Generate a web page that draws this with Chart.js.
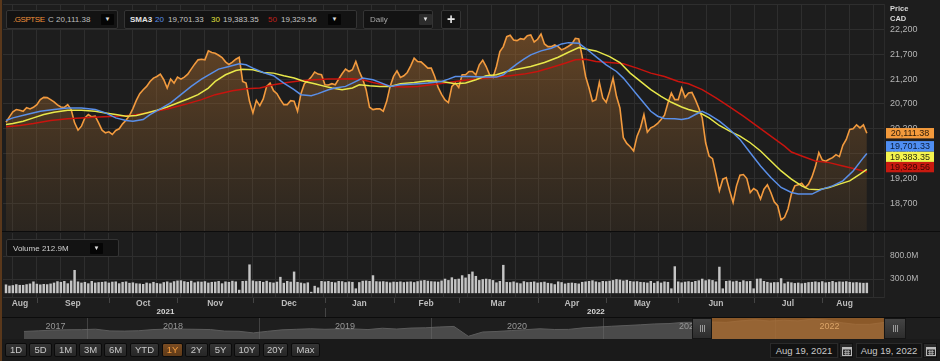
<!DOCTYPE html>
<html>
<head>
<meta charset="utf-8">
<script src="https://cdn.jsdelivr.net/npm/chart.js@4.4.0/dist/chart.umd.min.js"></script>
<style>
html,body{margin:0;padding:0;background:#1a1a1a;}
body{width:940px;height:361px;position:relative;overflow:hidden;font-family:"Liberation Sans",Arial,sans-serif;}
canvas{position:absolute;left:0;}
#price{top:0;}
#vol{top:232px;}
#nav{top:318px;}
.box{position:absolute;background:#131313;border:1px solid #343434;border-radius:2px;box-sizing:border-box;font-size:8px;color:#c4c4c4;white-space:nowrap;}
.box span{position:absolute;top:4px;}
.dd{position:absolute;top:3px;width:13px;height:11px;background:#050505;color:#e0e0e0;font-size:6px;line-height:11px;text-align:center;border-radius:1px;}
.btn{position:absolute;top:343px;height:14px;box-sizing:border-box;background:linear-gradient(#353535,#262626);border:1px solid #0b0b0b;border-radius:2px;color:#c8c8c8;font-size:9.5px;line-height:12px;text-align:center;}
.btn.on{background:linear-gradient(#7a4c22,#5e3a18);color:#f29a3c;}
.date{position:absolute;top:343px;height:15px;box-sizing:border-box;background:#121212;border:1px solid #2a2a2a;color:#c8c8c8;font-size:9.5px;line-height:13px;text-align:center;}
.cal{position:absolute;top:343px;width:14px;height:15px;box-sizing:border-box;background:#2a2a2a;border:1px solid #111;}
.cal svg{position:absolute;left:2px;top:2px;}
.axt{position:absolute;left:890px;font-size:7.5px;font-weight:bold;color:#d8d8d8;}
</style>
</head>
<body>
<div style="position:absolute;left:0;top:0;width:940px;height:4px;background:#080808;"></div>
<canvas id="price" width="940" height="232"></canvas>
<div style="position:absolute;left:0;top:231px;width:940px;height:2px;background:#0c0c0c;"></div>
<canvas id="vol" width="940" height="86"></canvas>
<div style="position:absolute;left:0;top:317px;width:940px;height:1px;background:#0c0c0c;"></div>
<canvas id="nav" width="940" height="21"></canvas>
<div style="position:absolute;left:0;top:0;width:2px;height:361px;background:#5a381b;"></div>

<div class="axt" style="top:4px;">Price</div>
<div class="axt" style="top:14px;">CAD</div>

<div class="box" style="left:6px;top:10px;width:112px;height:19px;">
  <span style="left:6px;color:#f0903a;letter-spacing:-0.45px;">.GSPTSE</span>
  <span id="hdrClose" style="left:41px;color:#bdbdbd;"></span>
  <div class="dd" style="left:94px;">&#9660;</div>
</div>
<div class="box" style="left:124px;top:10px;width:233px;height:19px;">
  <span style="left:5px;color:#e2e2e2;font-weight:bold;">SMA3</span>
  <span style="left:30px;color:#5a8fe8;">20</span>
  <span id="h20" style="left:43px;"></span>
  <span style="left:86px;color:#e2e23e;">30</span>
  <span id="h30" style="left:98px;"></span>
  <span style="left:143px;color:#c0201a;">50</span>
  <span id="h50" style="left:156px;"></span>
  <div class="dd" style="left:203px;">&#9660;</div>
</div>
<div class="box" style="left:363px;top:10px;width:70px;height:19px;">
  <span style="left:6px;color:#a8a8a8;">Daily</span>
  <div class="dd" style="left:55px;background:#2c2c2c;">&#9660;</div>
</div>
<div class="box" style="left:441px;top:10px;width:20px;height:19px;">
  <span style="left:5px;top:0px;font-size:14px;font-weight:bold;color:#e8e8e8;">+</span>
</div>
<div class="box" style="left:6px;top:239px;width:113px;height:18px;">
  <span style="left:6px;top:4px;color:#d0d0d0;" id="hdrVol"></span>
  <div class="dd" style="left:83px;top:3px;">&#9660;</div>
</div>

<div id="buttons"></div>
<div class="date" style="left:770px;width:68px;">Aug 19, 2021</div>
<div class="cal" style="left:839px;"><svg width="10" height="10"><rect x="0.5" y="1.5" width="9" height="8" fill="none" stroke="#bbb"/><rect x="0.5" y="1" width="9" height="2.5" fill="#bbb"/><path d="M2 5.5h6M2 7.5h6M3.5 4v5M5 4v5M6.5 4v5" stroke="#bbb" stroke-width="0.6"/></svg></div>
<div class="date" style="left:856px;width:66px;">Aug 19, 2022</div>
<div class="cal" style="left:923px;"><svg width="10" height="10"><rect x="0.5" y="1.5" width="9" height="8" fill="none" stroke="#bbb"/><rect x="0.5" y="1" width="9" height="2.5" fill="#bbb"/><path d="M2 5.5h6M2 7.5h6M3.5 4v5M5 4v5M6.5 4v5" stroke="#bbb" stroke-width="0.6"/></svg></div>

<script>
// axis labels
const months = ['Aug','Sep','Oct','Nov','Dec','Jan','Feb','Mar','Apr','May','Jun','Jul','Aug'];
const monthStarts = [0,9,30,50,72,93,113,132,155,175,196,218,238];
const years = ['2021','2022'];
const yearStarts = [0,93];
const priceTicks = [18700,19200,19700,20200,20700,21200,21700,22200];
const volumeTicks = [300,800];

// daily close, Aug 19 2021 .. Aug 19 2022
const closes = [
  20333,20440,20540,20587,20573,20553,20627,20600,20633,20687,
  20787,20833,20827,20787,20740,20680,20640,20630,20687,20587,
  20320,20173,20253,20420,20487,20440,20453,20320,20173,20120,
  20140,20087,20167,20200,20300,20373,20467,20607,20773,20907,
  20987,21053,21153,21220,21253,21300,21187,21020,21200,21120,
  21240,21200,21240,21300,21400,21500,21587,21600,21587,21767,
  21733,21720,21680,21633,21547,21493,21540,21600,21640,21153,
  21120,20753,20520,20773,20667,20800,21053,21120,20967,20907,
  20787,20687,20687,20767,20753,20553,20907,21107,21167,21240,
  21340,21300,21287,21087,21080,21107,21087,21200,21307,21400,
  21353,21387,21553,21353,21200,20987,20633,20587,20600,20600,
  20553,20753,21053,21253,21367,21233,21267,21333,21467,21620,
  21553,21547,21487,21420,21420,21253,21033,20893,20780,20727,
  21053,21120,21033,21287,21287,21353,21353,21287,21487,21580,
  21453,21287,21233,21453,21753,21853,22053,22080,21987,21973,
  22013,22000,22073,22087,21947,22000,22107,21907,21853,21853,
  21887,21853,21787,21820,21860,21907,22020,22007,21653,21253,
  21020,20753,20787,21133,20820,20733,20953,21220,20853,20620,
  20020,19907,19840,19753,20053,20220,20487,20133,20220,20253,
  20307,20387,20473,20720,20920,20787,20787,21020,20833,20920,
  20933,20787,20620,20420,19920,19653,19600,19287,18953,19187,
  19220,18953,18720,19053,19267,19280,19200,18920,19000,18953,
  18787,18987,19073,18920,18733,18653,18367,18420,18587,18887,
  19053,19073,19107,19020,19087,19233,19440,19720,19573,19547,
  19587,19620,19680,19640,19867,19987,20187,20200,20280,20220,
  20280,20111.38
];

// volume in millions
const volumes = [
  175,150,160,180,165,165,180,195,240,
  190,175,185,180,195,215,245,230,250,200,260,490,240,215,230,200,250,215,225,230,240,
  215,235,240,200,230,240,210,220,200,195,185,215,200,230,205,195,225,240,215,245,260,
  265,245,230,255,220,240,235,245,215,230,235,250,200,240,230,255,240,60,250,255,610,
  260,245,250,230,255,225,215,235,340,210,250,235,455,230,215,200,220,15,145,110,250,240,
  250,230,220,250,245,225,240,230,90,225,255,260,250,375,245,240,245,235,220,235,
  230,240,225,235,240,225,245,260,270,255,245,240,235,260,300,270,330,290,300,375,325,
  400,455,360,270,290,300,290,270,220,250,600,230,225,240,215,200,245,225,230,240,215,
  225,235,210,200,180,240,225,195,210,215,205,195,230,240,250,265,240,225,250,245,
  255,270,290,280,260,275,250,240,245,230,225,215,250,210,245,215,240,230,90,570,240,
  220,235,245,230,250,265,300,265,285,270,240,560,90,250,260,240,255,230,265,245,250,
  90,300,305,250,230,215,225,225,310,200,235,220,205,215,200,210,225,230,240,225,
  245,220,230,250,225,240,235,245,230,220,225,215,210,212.9
];

// moving averages read at these trading-day indices
const sma20Days = [0,2,6,10,14,18,22,26,29,32,35,37,40,42,45,48,51,54,57,60,62,65,68,70,72,75,78,81,84,86,89,91,94,96,99,101,104,107,109,112,115,119,123,127,129,131,135,139,143,145,147,149,151,153,156,159,162,164,167,169,172,175,178,180,182,184,186,188,190,192,195,197,199,201,203,205,208,211,214,217,220,223,226,229,231,233,235,238,241,244,247,250,251];
const sma20 = [20367,20420,20487,20553,20587,20620,20620,20587,20520,20420,20367,20353,20387,20487,20600,20720,20887,21053,21200,21320,21400,21453,21507,21487,21420,21333,21267,21120,20987,20887,20867,20907,20987,21020,21053,21120,21220,21187,21133,21053,21087,21100,21120,21153,21200,21253,21253,21240,21240,21287,21400,21507,21600,21687,21767,21820,21907,21933,21920,21820,21653,21487,21353,21220,21053,20887,20720,20553,20453,20407,20400,20387,20413,20487,20553,20487,20353,20187,19987,19720,19453,19220,19020,18920,18887,18887,18887,18987,19053,19153,19353,19620,19701.33];

const sma30Days = [0,2,5,8,11,14,18,22,26,29,32,35,38,41,44,47,50,53,56,59,61,64,67,69,72,75,78,81,84,87,90,93,95,98,101,103,106,109,112,115,119,123,127,131,134,137,140,143,146,149,153,157,161,164,167,169,172,176,179,182,185,188,191,194,197,199,202,205,208,211,214,217,220,223,226,229,232,234,237,240,243,246,249,251];
const sma30 = [20287,20307,20353,20420,20487,20533,20573,20573,20553,20520,20487,20453,20467,20520,20573,20640,20720,20800,20887,21020,21153,21287,21373,21400,21387,21333,21320,21267,21220,21153,21107,21053,21020,20987,21020,21087,21067,21053,21053,21107,21133,21167,21153,21107,21120,21187,21267,21287,21353,21400,21453,21533,21640,21740,21833,21807,21767,21653,21533,21320,21153,20987,20853,20733,20640,20587,20533,20420,20267,20153,20053,19920,19753,19553,19353,19187,19053,18987,18973,19020,19087,19153,19287,19383.35];

const sma50Days = [0,4,8,13,18,23,27,32,37,42,47,52,57,61,66,70,74,78,82,86,90,94,97,101,104,107,110,113,116,120,124,128,131,135,139,143,147,151,155,159,163,166,169,172,176,180,184,188,192,196,199,203,207,211,215,219,223,227,229,232,236,240,244,248,251];
const sma50 = [20240,20267,20307,20367,20400,20420,20440,20453,20473,20533,20600,20687,20787,20887,20967,21007,21020,21087,21133,21167,21187,21200,21200,21207,21187,21133,21087,21053,21040,21053,21087,21120,21153,21187,21213,21240,21267,21300,21353,21433,21520,21587,21600,21553,21533,21507,21420,21320,21253,21153,21107,20987,20820,20640,20453,20253,20053,19853,19733,19653,19553,19520,19453,19387,19329.56];

// navigator: index level near the 19th of each month, Aug 2017 .. Aug 2022
const navYears = ['2017','2018','2019','2020','2021','2022'];
const navValues = [
  15100,15450,15850,16050,16100,
  16350,15400,15300,15500,16150,16400,16400,16300,16150,15300,15200,14300,
  15200,16000,16300,16600,16300,16500,16500,16150,16900,16450,17000,17150,
  17600,17900,12400,14800,15100,15600,16100,16600,16200,16250,17100,17550,
  18000,18400,18800,19300,19500,20150,20200,20350,20150,21000,21600,20900,
  21350,21000,22000,21400,20000,19050,19050,20111
];
const navRange = [2021.633, 2022.633];

const X_MIN = -0.875, X_MAX = 256;
const gridDays = [];
for (let d = 2.04; d < X_MAX; d += 6.97) gridDays.push(d);
const lastIdx = closes.length - 1;
const monthCenters = monthStarts.map((s, k) => ((k === 0 ? X_MIN : s) + (k < monthStarts.length - 1 ? monthStarts[k + 1] : lastIdx)) / 2);

const fmt2 = v => v.toLocaleString('en-US', {minimumFractionDigits: 2, maximumFractionDigits: 2});
const pts = (xs, ys) => ys.map((y, k) => ({x: xs[k], y}));
const dayIdx = closes.map((_, i) => i);
const last = a => a[a.length - 1];

document.getElementById('hdrClose').textContent = 'C ' + fmt2(last(closes));
document.getElementById('h20').textContent = fmt2(last(sma20));
document.getElementById('h30').textContent = fmt2(last(sma30));
document.getElementById('h50').textContent = fmt2(last(sma50));
document.getElementById('hdrVol').textContent = 'Volume  ' + last(volumes).toFixed(1) + 'M';

const btns = [['1D',5,22],['5D',29,23],['1M',54,23],['3M',79,23],['6M',104,23],['YTD',130,29],['1Y',162,21],['2Y',185,23],['5Y',209,23],['10Y',234,26],['20Y',263,25],['Max',291,29]];
const bHost = document.getElementById('buttons');
btns.forEach(([t, l, w]) => {
  const d = document.createElement('div');
  d.className = 'btn' + (t === '1Y' ? ' on' : '');
  d.style.left = l + 'px'; d.style.width = w + 'px';
  d.textContent = t;
  bHost.appendChild(d);
});

Chart.defaults.font.family = '"Liberation Sans", Arial, sans-serif';

const panelBg = {
  id: 'panelBg',
  beforeDraw(c) {
    const ctx = c.ctx;
    ctx.save();
    ctx.fillStyle = '#1d1d1d';
    ctx.fillRect(0, 0, c.width, c.height);
    ctx.restore();
  }
};

// keep label overflow from shrinking the plot area
const noPad = s => { s.paddingTop = 0; s.paddingBottom = 0; s.paddingLeft = 0; s.paddingRight = 0; };

const xGrid = () => ({
  type: 'linear', min: X_MIN, max: X_MAX, offset: false,
  afterBuildTicks: s => { s.ticks = gridDays.map(v => ({value: v})); },
  afterFit: noPad,
  ticks: {display: false},
  grid: {color: '#2e2e2e', drawTicks: false, offset: false},
  border: {display: false}
});

// PRICE PANEL
const badges = {
  id: 'badges',
  afterDraw(c) {
    const ctx = c.ctx, ys = c.scales.y, a = c.chartArea;
    ctx.save();
    ctx.strokeStyle = '#2e2e2e';
    ctx.beginPath(); ctx.moveTo(a.left, a.top + 0.5); ctx.lineTo(a.right, a.top + 0.5); ctx.stroke();
    const items = [
      {v: last(closes), bg: '#f39a3c', fg: '#2a1a08'},
      {v: last(sma20), bg: '#4f8ef2', fg: '#0c1c38'},
      {v: last(sma30), bg: '#f4f44e', fg: '#2e2e10'},
      {v: last(sma50), bg: '#c81a10', fg: '#3c0603'}
    ];
    items.forEach(it => { it.y = ys.getPixelForValue(it.v); });
    items.sort((p, q) => q.y - p.y);
    const h = 10.4;
    let prev = null;
    items.forEach(it => {
      it.cy = prev === null ? it.y - 5 : Math.min(it.y, prev - h);
      prev = it.cy;
    });
    ctx.font = '9px "Liberation Sans", Arial, sans-serif';
    ctx.textAlign = 'center'; ctx.textBaseline = 'middle';
    items.forEach(it => {
      ctx.fillStyle = it.bg;
      ctx.fillRect(886, it.cy - h / 2, 48, h);
      ctx.fillStyle = it.fg;
      ctx.fillText(fmt2(it.v), 910, it.cy + 0.5);
    });
    ctx.restore();
  }
};

const lineDs = (label, data, color) => ({
  label, data, borderColor: color, borderWidth: 1.5, pointRadius: 0, fill: false, tension: 0
});

new Chart(document.getElementById('price'), {
  type: 'line',
  data: {
    datasets: [
      lineDs('SMA 20', pts(sma20Days, sma20), '#5a8fe8'),
      lineDs('SMA 30', pts(sma30Days, sma30), '#e8e84a'),
      lineDs('SMA 50', pts(sma50Days, sma50), '#c8140e'),
      {
        label: '.GSPTSE', data: pts(dayIdx, closes), borderColor: '#f29a3e', borderWidth: 1.6,
        pointRadius: 0, tension: 0, fill: 'start',
        backgroundColor: ctx => {
          const a = ctx.chart.chartArea;
          if (!a) return 'rgba(0,0,0,0)';
          const g = ctx.chart.ctx.createLinearGradient(0, a.top, 0, a.bottom);
          g.addColorStop(0, 'rgba(178,110,45,0.55)');
          g.addColorStop(1, 'rgba(130,90,45,0.14)');
          return g;
        }
      }
    ]
  },
  options: {
    responsive: false, animation: false,
    layout: {padding: {left: 3, top: 4, right: 0, bottom: 1}},
    plugins: {legend: {display: false}, tooltip: {enabled: false}},
    scales: {
      x: xGrid(),
      y: {
        position: 'right', min: 18145, max: 22710,
        afterBuildTicks: s => { s.ticks = priceTicks.map(v => ({value: v})); },
        afterFit: s => { s.width = 56; noPad(s); },
        ticks: {callback: v => v.toLocaleString('en-US'), color: '#b4b4b4', font: {size: 9}, padding: 6},
        grid: {color: '#2e2e2e', drawTicks: false},
        border: {display: true, color: '#2a2a2a'}
      }
    }
  },
  plugins: [panelBg, badges]
});

// VOLUME PANEL
const volAxis = {
  id: 'volAxis',
  afterDraw(c) {
    const ctx = c.ctx, xs = c.scales.xm, a = c.chartArea;
    ctx.save();
    ctx.strokeStyle = '#444';
    ctx.lineWidth = 1;
    monthStarts.slice(1).forEach(s => {
      const px = Math.round(xs.getPixelForValue(s)) + 0.5;
      ctx.beginPath(); ctx.moveTo(px, a.bottom + 1); ctx.lineTo(px, a.bottom + 6); ctx.stroke();
    });
    yearStarts.slice(1).forEach(s => {
      const px = Math.round(xs.getPixelForValue(s)) + 0.5;
      ctx.beginPath(); ctx.moveTo(px, a.bottom + 11); ctx.lineTo(px, c.height); ctx.stroke();
    });
    ctx.fillStyle = '#d8d8d8';
    ctx.font = 'bold 8px "Liberation Sans", Arial, sans-serif';
    ctx.textAlign = 'center'; ctx.textBaseline = 'middle';
    years.forEach((y, k) => {
      const e = k < yearStarts.length - 1 ? yearStarts[k + 1] : lastIdx;
      ctx.fillText(y, xs.getPixelForValue((yearStarts[k] + e) / 2), a.bottom + 15);
    });
    ctx.strokeStyle = '#2e2e2e';
    ctx.beginPath(); ctx.moveTo(a.left, a.bottom + 0.5); ctx.lineTo(a.right, a.bottom + 0.5); ctx.stroke();
    ctx.restore();
  }
};

new Chart(document.getElementById('vol'), {
  type: 'bar',
  data: {
    datasets: [{
      label: 'Volume', data: pts(dayIdx, volumes), xAxisID: 'x', yAxisID: 'y',
      backgroundColor: '#c4c4c4', borderWidth: 0, barThickness: 1.8
    }]
  },
  options: {
    responsive: false, animation: false,
    layout: {padding: {left: 3, top: 1, right: 0, bottom: 0}},
    plugins: {legend: {display: false}, tooltip: {enabled: false}},
    scales: {
      x: xGrid(),
      xm: {
        type: 'linear', position: 'bottom', min: X_MIN, max: X_MAX, offset: false,
        afterBuildTicks: s => { s.ticks = monthCenters.map(v => ({value: v})); },
        afterFit: s => { s.height = 21; noPad(s); },
        ticks: {callback: (v, i) => months[i], color: '#bcbcbc', font: {size: 8.5, weight: 'bold'}, padding: 2, autoSkip: false, maxRotation: 0},
        grid: {display: false, drawTicks: false, offset: false},
        border: {display: false}
      },
      y: {
        position: 'right', min: -90, max: 1300,
        afterBuildTicks: s => { s.ticks = volumeTicks.map(v => ({value: v})); },
        afterFit: s => { s.width = 56; noPad(s); },
        ticks: {callback: v => v.toFixed(1) + 'M', color: '#b4b4b4', font: {size: 8.5}, padding: 6},
        grid: {color: '#2e2e2e', drawTicks: false},
        border: {display: true, color: '#2a2a2a'}
      }
    }
  },
  plugins: [panelBg, volAxis]
});

// NAVIGATOR
const navX = navValues.map((_, k) => 2017 + (7.6 + k) / 12);
const navDeco = {
  id: 'navDeco',
  beforeDraw(c) {
    const ctx = c.ctx;
    ctx.save(); ctx.fillStyle = '#1e1e1e'; ctx.fillRect(0, 0, c.width, c.height); ctx.restore();
  },
  afterDatasetsDraw(c) {
    const ctx = c.ctx, xs = c.scales.x, a = c.chartArea;
    const x0 = xs.getPixelForValue(navRange[0]), x1 = xs.getPixelForValue(navRange[1]);
    const top = a.top, bot = a.bottom;
    ctx.save();
    ctx.strokeStyle = 'rgba(110,110,110,0.45)';
    for (let y = 2018; y <= 2022; y++) {
      const px = Math.round(xs.getPixelForValue(y)) + 0.5;
      ctx.beginPath(); ctx.moveTo(px, top); ctx.lineTo(px, bot); ctx.stroke();
    }
    ctx.fillStyle = 'rgba(176,110,45,0.75)';
    ctx.fillRect(x0, top, x1 - x0, bot - top);
    ctx.font = '9px "Liberation Sans", Arial, sans-serif';
    ctx.textAlign = 'center'; ctx.textBaseline = 'middle';
    navYears.forEach(y => {
      const s = Math.max(+y, navX[0]), e = Math.min(+y + 1, last(navX));
      const mid = (s + e) / 2;
      ctx.fillStyle = mid > navRange[0] ? '#dba468' : '#979797';
      ctx.fillText(y, xs.getPixelForValue(mid), top + 9);
    });
    const handle = (hx, w) => {
      const g = ctx.createLinearGradient(0, top, 0, bot);
      g.addColorStop(0, '#454545'); g.addColorStop(1, '#2c2c2c');
      ctx.fillStyle = g;
      ctx.fillRect(hx, top, w, bot - top);
      ctx.strokeStyle = '#151515';
      ctx.strokeRect(hx + 0.5, top + 0.5, w - 1, bot - top - 1);
      ctx.strokeStyle = '#9a9a9a';
      const cx = Math.round(hx + w / 2);
      [-2, 0, 2].forEach(o => {
        ctx.beginPath(); ctx.moveTo(cx + o + 0.5, top + 7); ctx.lineTo(cx + o + 0.5, bot - 7); ctx.stroke();
      });
    };
    handle(Math.round(x0) - 20, 20);
    handle(Math.round(x1), 22);
    ctx.restore();
  }
};

new Chart(document.getElementById('nav'), {
  type: 'line',
  data: {
    datasets: [{
      label: 'History', data: pts(navX, navValues), borderColor: '#5c5c5c', borderWidth: 1,
      backgroundColor: '#4a4a4a', fill: 'start', pointRadius: 0, tension: 0
    }]
  },
  options: {
    responsive: false, animation: false,
    layout: {padding: 0},
    plugins: {legend: {display: false}, tooltip: {enabled: false}},
    scales: {
      x: {type: 'linear', display: false, min: 2017.494, max: 2022.959},
      y: {display: false, min: 10900, max: 22600}
    }
  },
  plugins: [navDeco]
});
</script>
</body>
</html>
